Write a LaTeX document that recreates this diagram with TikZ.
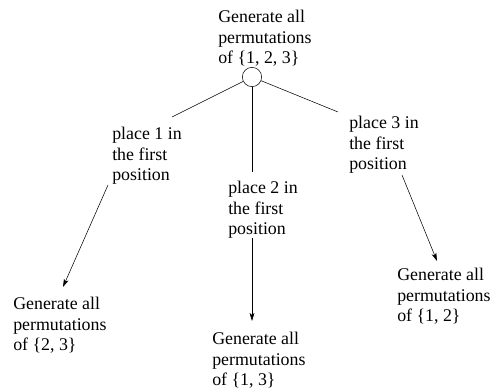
\documentclass[tikz,border=0pt]{standalone}
\usepackage{fontspec}
\setmainfont{Liberation Serif}
\usetikzlibrary{arrows.meta}

\tikzset{
  txt/.style={draw=none, anchor=north west, inner sep=0pt, align=left, font=\fontsize{13.4}{15.5}\selectfont},
  arr/.style={-{Stealth[length=6pt,width=3.6pt,inset=1.5pt]}}
}

\begin{document}
\begin{tikzpicture}[x=0.75pt,y=-0.75pt]

\useasboundingbox (0,0) rectangle (490,391);

\node[txt] (top) at (218,10) {Generate all\\permutations\\of \{1, 2, 3\}};
\node[draw, circle, inner sep=0pt, minimum size=14.5pt] (root) at (252,77) {};

\node[txt] (place1) at (112,127) {place 1 in\\the first\\position};
\node[txt] (place2) at (228,181) {place 2 in\\the first\\position};
\node[txt] (place3) at (349,116) {place 3 in\\the first\\position};

\node[txt] (gen1) at (13,297) {Generate all\\permutations\\of \{2, 3\}};
\node[txt] (gen2) at (212,332) {Generate all\\permutations\\of \{1, 3\}};
\node[txt] (gen3) at (397,268) {Generate all\\permutations\\of \{1, 2\}};

\coordinate (end1) at (172,117);
\coordinate (end2) at (252,172);
\coordinate (end3) at (338,112);

\draw (root) -- (end1);
\draw (root) -- (end2);
\draw (root) -- (end3);

\coordinate (from1) at (108,185);
\coordinate (to1) at (63,287);
\coordinate (from2) at (252,238);
\coordinate (to2) at (252,321);
\coordinate (from3) at (402,175);
\coordinate (to3) at (437,261);

\draw[arr] (from1) -- (to1);
\draw[arr] (from2) -- (to2);
\draw[arr] (from3) -- (to3);

\end{tikzpicture}
\end{document}
